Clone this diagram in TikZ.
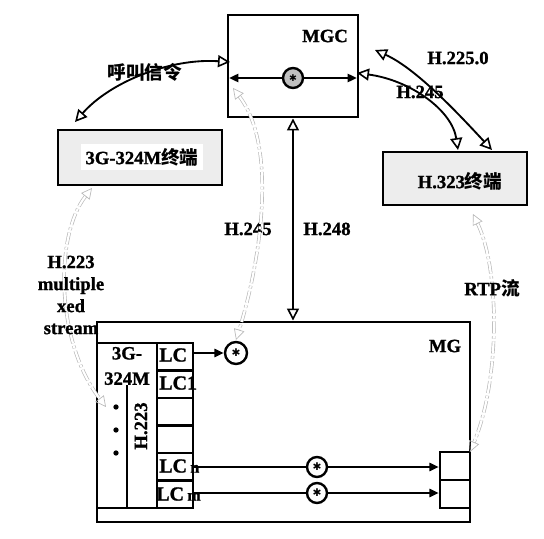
\documentclass[tikz,border=0pt]{standalone}
\usepackage{fontspec}
\setmainfont{Liberation Serif}[BoldFeatures={FakeBold=1.2}]
\newfontfamily\cjk{Noto Sans CJK SC}
\newfontfamily\symf{DejaVu Sans}
\usetikzlibrary{arrows.meta}
\newcommand\pxu{0.75pt}
\begin{document}
\begin{tikzpicture}[x=0.75pt,y=-0.75pt,
  lbl/.style={font=\fontsize{14}{16}\selectfont\bfseries, inner sep=0pt},
  thickbox/.style={draw, line width=2.2pt, inner sep=0pt},
  term/.style={thickbox, fill=black!7},
  cellbox/.style={draw, line width=1.8pt, minimum width=36*\pxu, minimum height=27.5*\pxu, inner sep=0pt},
  ring/.style={circle, draw, line width=1.8pt, minimum size=20*\pxu, inner sep=0pt, fill=white},
  oarr/.style={line width=1.4pt, arrows={Triangle[open,length=9pt,width=9pt,line width=1.2pt]-Triangle[open,length=9pt,width=9pt,line width=1.2pt]}},
  farr/.style={line width=1.8pt, arrows={-Triangle[length=7pt,width=6pt]}},
  ghost/.style={draw=black!28, double=white, double distance=1.6pt, line width=0.5pt,
     dash pattern=on 9pt off 2pt on 2pt off 2pt,
     arrows={Triangle[open,length=8pt,width=8pt]-Triangle[open,length=8pt,width=8pt]}}
]
\useasboundingbox (0,0) rectangle (544,539);

% main boxes
\node[thickbox, minimum width=130*\pxu, minimum height=102*\pxu] (mgc) at (293,66) {};
\node[lbl] (mgct) at (325,36) {MGC};
\node[term, minimum width=164*\pxu, minimum height=55*\pxu] (t3g) at (140,157.5) {};
\node[lbl, fill=white, inner sep=3pt] (t3gt) at (142,157) {3G-324M{\cjk\bfseries 终端}};
\node[term, minimum width=144*\pxu, minimum height=53*\pxu] (t323) at (455,178.5) {};
\node[lbl] (t323t) at (460,181) {H.323{\cjk\bfseries 终端}};
\node[thickbox, minimum width=373*\pxu, minimum height=200*\pxu] (mg) at (283.5,422) {};
\node[lbl] (mgt) at (445,346) {MG};

% inner 3G-324M block
\node[draw, line width=1.8pt, inner sep=0pt, minimum width=96*\pxu, minimum height=165*\pxu] (inner) at (145,425.5) {};
\draw[line width=1.8pt] (127,385) -- (127,508);
\node[lbl, align=center, font=\fontsize{14}{19}\selectfont\bfseries] (g3t) at (127,366) {3G-\\324M};
\node[lbl, rotate=90] (h223) at (141,426) {H.223};
\foreach \yy/\nm in {407/d1,430/d2,453/d3} \node[circle, fill, inner sep=1.4pt] (\nm) at (116,\yy) {};

% LC cells
\node[cellbox] (c1) at (175,356.75) {};
\node[cellbox] (c2) at (175,384.25) {};
\node[cellbox] (c3) at (175,411.75) {};
\node[cellbox] (c4) at (175,439.25) {};
\node[cellbox] (c5) at (175,466.75) {};
\node[cellbox] (c6) at (175,494.25) {};
\node[lbl, anchor=west, font=\fontsize{15}{17}\selectfont\bfseries] (l1) at (159,355) {LC};
\node[lbl, anchor=west, font=\fontsize{15}{17}\selectfont\bfseries] (l2) at (159,383) {LC1};
\node[lbl, anchor=west, font=\fontsize{15}{17}\selectfont\bfseries] (l5) at (159,466) {LC\,{\fontsize{12}{12}\selectfont n}};
\node[lbl, anchor=west, font=\fontsize{15}{17}\selectfont\bfseries] (l6) at (156,494) {LC\,{\fontsize{12}{12}\selectfont m}};

% right small boxes
\node[draw, line width=1.8pt, minimum width=30*\pxu, minimum height=28*\pxu, inner sep=0pt] (r1) at (455,466) {};
\node[draw, line width=1.8pt, minimum width=30*\pxu, minimum height=28*\pxu, inner sep=0pt] (r2) at (455,494) {};

% circles
\node[ring, minimum size=22*\pxu] (cl) at (236,353) {\symf\fontsize{8}{8}\selectfont ✱};
\node[ring] (cn) at (317,467) {\symf\fontsize{8}{8}\selectfont ✱};
\node[ring] (cm) at (317,493) {\symf\fontsize{8}{8}\selectfont ✱};
\node[ring, fill=black!25] (c0) at (293,78) {\symf\fontsize{7}{7}\selectfont ✱};

% MGC internal double arrow
\coordinate (ml) at (229,78);
\coordinate (mr) at (357,78);
\draw[farr] (c0) -- (ml);
\draw[farr] (c0) -- (mr);

% LC connectors
\draw[farr] (c1.east |- cl) -- (cl);
\draw[line width=1.8pt] (c5.east |- cn) -- (cn);
\draw[farr] (cn) -- (r1.west |- cn);
\draw[line width=1.8pt] (c6.east |- cm) -- (cm);
\draw[farr] (cm) -- (r2.west |- cm);

% H.248
\draw[oarr] (mgc.south) -- (mgc.south |- mg.north);
\node[lbl] (h248) at (327,229) {H.248};
\node[lbl] (h245c) at (248,229) {H.245};

% signalling curves
\coordinate (a1) at (230,62);
\coordinate (a2) at (75,122);
\draw[oarr] (a1) .. controls (170,58) and (110,82) .. (a2);
\node[lbl] (hj) at (145,72) {\cjk\bfseries 呼叫信令};

\coordinate (b1) at (375,50);
\coordinate (b2) at (492,150);
\draw[oarr] (b1) .. controls (415,68) and (455,110) .. (b2);
\coordinate (e1) at (357,73);
\coordinate (e2) at (458,150);
\draw[oarr] (e1) .. controls (410,80) and (452,110) .. (e2);
\node[lbl] (h2250) at (458,58) {H.225.0};
\node[lbl] (h245r) at (420,92) {H.245};

% ghost (light) connectors
\coordinate (g1) at (92,188);
\coordinate (g2) at (106,407);
\draw[ghost] (g1) .. controls (55,235) and (55,340) .. (g2);
\node[lbl, align=center, font=\fontsize{14}{16.5}\selectfont\bfseries] (h223t) at (71,295) {H.223\\multiple\\xed\\stream};

\coordinate (k1) at (233,88);
\coordinate (k2) at (236,340);
\draw[ghost] (k1) .. controls (280,150) and (258,270) .. (k2);

\coordinate (q1) at (473,214);
\coordinate (q2) at (470,452);
\draw[ghost] (q1) .. controls (500,270) and (500,380) .. (q2);
\node[lbl] (rtp) at (492,288) {RTP{\cjk\bfseries 流}};
\end{tikzpicture}
\end{document}
